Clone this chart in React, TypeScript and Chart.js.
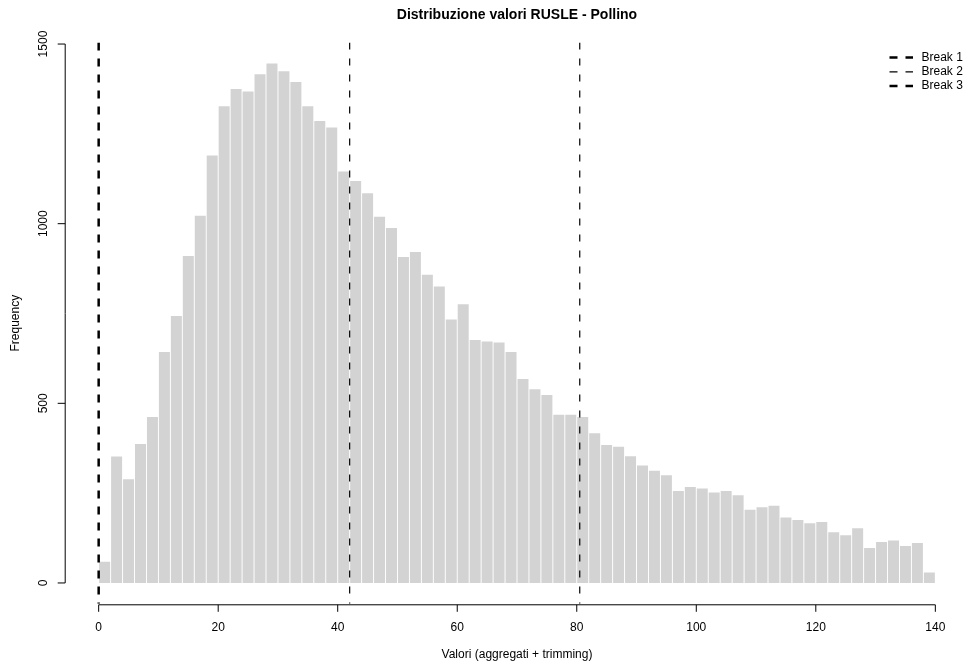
import React, { useEffect, useRef } from "react";
import { Chart, registerables } from "chart.js";

Chart.register(...registerables);

// ---- data ----
const chartTitle = "Distribuzione valori RUSLE - Pollino";
const xTitle = "Valori (aggregati + trimming)";
const yTitle = "Frequency";

const binStarts = [
  0, 2, 4, 6, 8, 10, 12, 14, 16, 18,
  20, 22, 24, 26, 28, 30, 32, 34, 36, 38,
  40, 42, 44, 46, 48, 50, 52, 54, 56, 58,
  60, 62, 64, 66, 68, 70, 72, 74, 76, 78,
  80, 82, 84, 86, 88, 90, 92, 94, 96, 98,
  100, 102, 104, 106, 108, 110, 112, 114, 116, 118,
  120, 122, 124, 126, 128, 130, 132, 134, 136, 138,
];
const binWidth = 2;

const counts = [
  59, 352, 289, 387, 462, 643, 743, 910, 1022, 1190,
  1327, 1375, 1368, 1416, 1446, 1424, 1394, 1327, 1286, 1268,
  1145, 1119, 1085, 1019, 988, 907, 921, 858, 825, 733,
  776, 676, 672, 669, 643, 568, 539, 523, 468, 468,
  462, 417, 384, 379, 353, 327, 312, 300, 256, 267,
  263, 252, 256, 244, 204, 211, 215, 182, 175, 166,
  170, 141, 133, 152, 97, 114, 118, 103, 111, 29,
];

const breakValues = [0, 42, 80.5];
const breakLabels = ["Break 1", "Break 2", "Break 3"];
const breakLineWidths = [2.5, 1.2, 1.2];
const legendLineWidths = [2.5, 1.2, 2.5];

const xTicks = [0, 20, 40, 60, 80, 100, 120, 140];
const yTicks = [0, 500, 1000, 1500];
const xRange = [-5.6, 145.6];
const yRange = [-58, 1504];

const FONT = '"Liberation Sans", Arial, Helvetica, sans-serif';

const rStylePlugin = {
  id: "rStyle",
  afterDraw(chart: any) {
    const { ctx, chartArea, scales } = chart;
    const x = scales.x;
    const y = scales.y;
    ctx.save();
    ctx.strokeStyle = "#000";
    ctx.lineWidth = 1;
    ctx.setLineDash([]);

    // y axis
    const yx = chartArea.left;
    ctx.beginPath();
    ctx.moveTo(yx, y.getPixelForValue(yTicks[0]));
    ctx.lineTo(yx, y.getPixelForValue(yTicks[yTicks.length - 1]));
    yTicks.forEach((v) => {
      const p = y.getPixelForValue(v);
      ctx.moveTo(yx, p);
      ctx.lineTo(yx - 7.5, p);
    });
    ctx.stroke();

    // x axis
    const xy = chartArea.bottom + 1;
    ctx.beginPath();
    ctx.moveTo(x.getPixelForValue(xTicks[0]), xy);
    ctx.lineTo(x.getPixelForValue(xTicks[xTicks.length - 1]), xy);
    xTicks.forEach((v) => {
      const p = x.getPixelForValue(v);
      ctx.moveTo(p, xy);
      ctx.lineTo(p, xy + 7);
    });
    ctx.stroke();

    ctx.fillStyle = "#000";
    ctx.font = `12px ${FONT}`;
    ctx.textAlign = "center";
    ctx.textBaseline = "middle";
    xTicks.forEach((v) => {
      ctx.fillText(String(v), x.getPixelForValue(v), xy + 22.5);
    });
    yTicks.forEach((v) => {
      ctx.save();
      ctx.translate(yx - 21.5, y.getPixelForValue(v));
      ctx.rotate(-Math.PI / 2);
      ctx.fillText(String(v), 0, 0);
      ctx.restore();
    });

    const cx = (chartArea.left + chartArea.right) / 2;
    const cy = (chartArea.top + chartArea.bottom) / 2;

    // axis titles
    ctx.fillText(xTitle, cx, 655);
    ctx.save();
    ctx.translate(16, cy);
    ctx.rotate(-Math.PI / 2);
    ctx.fillText(yTitle, 0, 0);
    ctx.restore();

    // main title
    ctx.font = `bold 14px ${FONT}`;
    ctx.fillText(chartTitle, cx, 15);

    // legend
    ctx.font = `12px ${FONT}`;
    ctx.textAlign = "left";
    breakLabels.forEach((label, i) => {
      const ly = 57.5 + i * 14.3;
      ctx.beginPath();
      ctx.lineWidth = legendLineWidths[i];
      ctx.setLineDash([8, 8]);
      ctx.moveTo(889.5, ly);
      ctx.lineTo(913, ly);
      ctx.stroke();
      ctx.setLineDash([]);
      ctx.fillText(label, 921.5, ly);
    });
    ctx.restore();
  },
};

export default function App() {
  const canvasRef = useRef<HTMLCanvasElement | null>(null);

  useEffect(() => {
    const canvas = canvasRef.current;
    if (!canvas) return;

    const barData = counts.map((c, i) => ({ x: binStarts[i] + binWidth / 2, y: c }));

    const lineDatasets = breakValues.map((b, i) => ({
      type: "line" as const,
      label: breakLabels[i],
      data: [
        { x: b, y: yRange[1] },
        { x: b, y: yRange[0] },
      ],
      borderColor: "#000",
      borderWidth: breakLineWidths[i],
      borderDash: i === 0 ? [8, 8] : [7, 9],
      pointRadius: 0,
      fill: false,
      order: 0,
    }));

    const chart = new Chart(canvas, {
      type: "bar",
      data: {
        datasets: [
          {
            type: "bar",
            label: "Frequency",
            data: barData,
            backgroundColor: "#D3D3D3",
            borderWidth: 0,
            barPercentage: 0.92,
            categoryPercentage: 1,
            order: 1,
          } as any,
          ...(lineDatasets as any[]),
        ],
      },
      options: {
        animation: false,
        responsive: false,
        events: [],
        layout: {
          padding: { left: 65.2, right: 31.2, top: 42.6, bottom: 61.2 },
        },
        scales: {
          x: {
            type: "linear",
            min: xRange[0],
            max: xRange[1],
            offset: false,
            display: false,
          },
          y: {
            type: "linear",
            min: yRange[0],
            max: yRange[1],
            display: false,
          },
        },
        plugins: {
          legend: { display: false },
          tooltip: { enabled: false },
          title: { display: false },
        },
      },
      plugins: [rStylePlugin],
    });

    return () => chart.destroy();
  }, []);

  return (
    <div
      style={{
        position: "fixed",
        left: 0,
        top: 0,
        width: 966,
        height: 665,
        overflow: "hidden",
        background: "#fff",
      }}
    >
      <canvas ref={canvasRef} width={1000} height={665} style={{ display: "block" }} />
    </div>
  );
}
